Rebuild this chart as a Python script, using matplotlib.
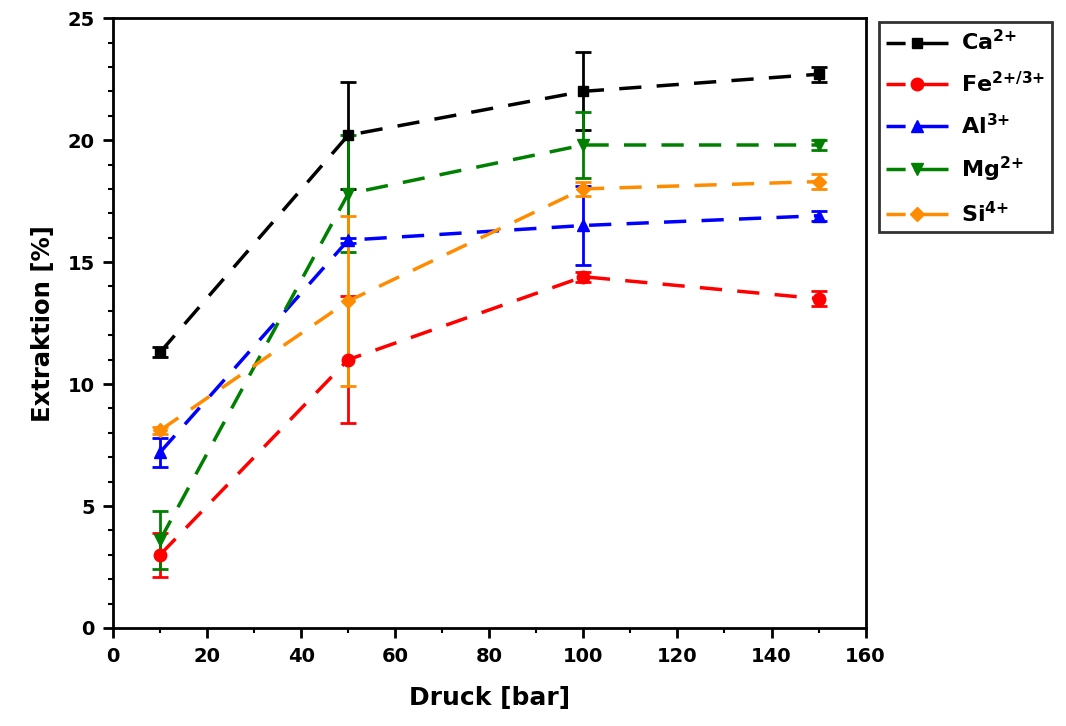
import numpy as np
import matplotlib
matplotlib.use('Agg')
import matplotlib.pyplot as plt
from matplotlib.ticker import MultipleLocator
from matplotlib.lines import Line2D

plt.rcParams['font.family'] = ['DejaVu Sans']
plt.rcParams['font.weight'] = 'bold'
plt.rcParams['mathtext.fontset'] = 'custom'
plt.rcParams['mathtext.rm'] = 'DejaVu Sans:bold'
plt.rcParams['mathtext.bf'] = 'DejaVu Sans:bold'
plt.rcParams['mathtext.default'] = 'bf'

# data
druck = [10, 50, 100, 150]

ca = [11.3, 20.2, 22.0, 22.7]
ca_err = [0.2, 2.2, 1.6, 0.3]

fe = [3.0, 11.0, 14.4, 13.5]
fe_err = [0.9, 2.6, 0.2, 0.3]

al = [7.2, 15.9, 16.5, 16.9]
al_err = [0.6, 0.1, 1.6, 0.2]

mg = [3.6, 17.8, 19.8, 19.8]
mg_err = [1.2, 2.4, 1.35, 0.2]

si = [8.1, 13.4, 18.0, 18.3]
si_err = [0.15, 3.5, 0.3, 0.3]

labels = ['Ca$^{2{+}}$', 'Fe$^{2{+}/3{+}}$', 'Al$^{3{+}}$', 'Mg$^{2{+}}$', 'Si$^{4{+}}$']

fig = plt.figure(figsize=(10.66, 7.26), dpi=100)
ax = fig.add_axes([0.106, 0.135, 0.706, 0.84])

series = [
    (ca, ca_err, 'black', 's', 7),
    (fe, fe_err, 'red', 'o', 9),
    (al, al_err, 'blue', '^', 9),
    (mg, mg_err, 'green', 'v', 9),
    (si, si_err, 'darkorange', 'D', 7),
]

handles = []
for (y, e, c, m, ms), lab in zip(series, labels):
    ax.errorbar(druck, y, yerr=e, color=c, marker=m, markersize=ms,
                linestyle=(0, (6.4, 4.4)), linewidth=2.5, capsize=6, capthick=2,
                elinewidth=2)
    handles.append(Line2D([], [], color=c, marker=m, markersize=ms,
                          linestyle=(0, (5.5, 2.5, 30, 1)), linewidth=2.5,
                          label=lab))

ax.set_xlim(0, 160)
ax.set_ylim(0, 25)
ax.xaxis.set_major_locator(MultipleLocator(20))
ax.xaxis.set_minor_locator(MultipleLocator(10))
ax.yaxis.set_major_locator(MultipleLocator(5))
ax.yaxis.set_minor_locator(MultipleLocator(1))
ax.tick_params(which='major', direction='out', length=7, width=2, labelsize=14)
ax.tick_params(which='minor', direction='out', length=3.5, width=1.5)
ax.tick_params(axis='x', which='major', pad=7)
ax.tick_params(axis='y', which='major', pad=6)
for s in ax.spines.values():
    s.set_linewidth(2)

ax.set_xlabel('Druck [bar]', fontsize=18, fontweight='bold', labelpad=14)
ax.set_ylabel('Extraktion [%]', fontsize=17.5, fontweight='bold', labelpad=9)

leg = ax.legend(handles=handles, loc='upper left', bbox_to_anchor=(1.0178, 0.993),
                borderaxespad=0, fontsize=16, frameon=True, fancybox=False,
                edgecolor='black', handlelength=2.8, borderpad=0.3,
                labelspacing=0.75, handletextpad=0.6, numpoints=1)
leg.get_frame().set_linewidth(2)

plt.savefig('out.png', dpi=100)
